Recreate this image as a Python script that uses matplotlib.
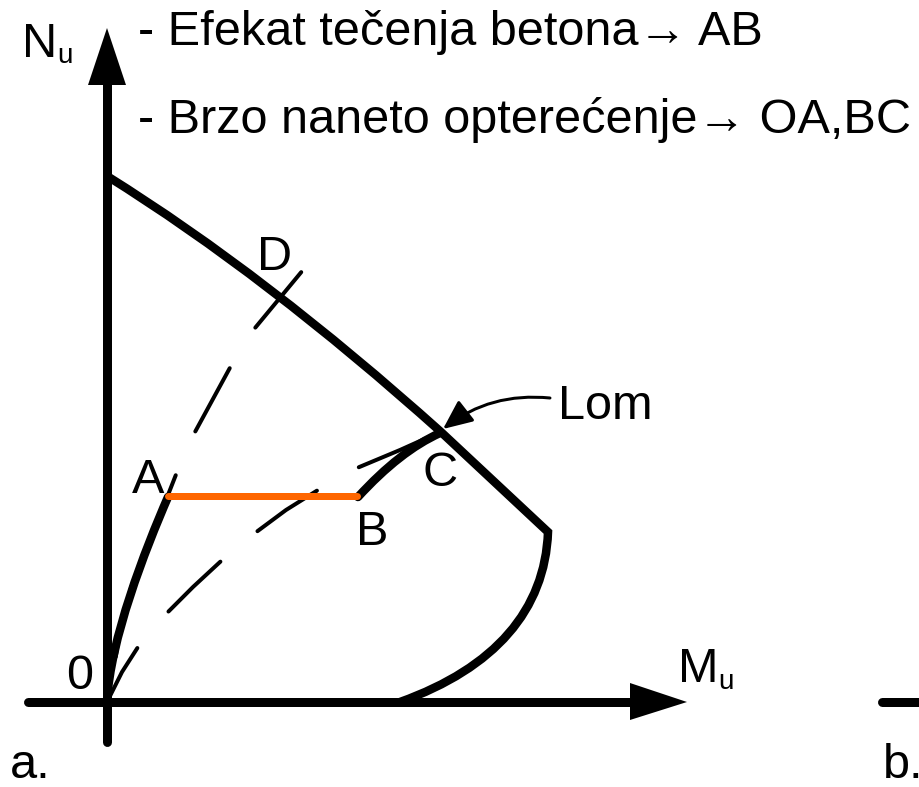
import matplotlib
matplotlib.use('Agg')
import matplotlib.pyplot as plt
from matplotlib.patches import Polygon, FancyArrowPatch, PathPatch
from matplotlib.path import Path

plt.rcParams['font.family'] = ['Liberation Sans', 'DejaVu Sans']
plt.rcParams['lines.scale_dashes'] = False

PX = 0.72  # points per pixel at 100 dpi
M, L, Q, C = Path.MOVETO, Path.LINETO, Path.CURVE3, Path.CURVE4

# diagram geometry, in image pixels (y grows downward)
n_axis_x = [107, 107]
n_axis_y = [742, 84]
n_head_x = [107, 88, 126]
n_head_y = [28, 85, 85]
m_axis_x = [28, 632]
m_axis_y = [702, 702]
m_head_x = [687, 630, 630]
m_head_y = [702, 683, 720]
b_stub_x = [882, 925]
b_stub_y = [702, 702]

# interaction (failure) curve, bezier nodes and control points
lom_x = [107, 266, 441, 548, 545, 495, 400]
lom_y = [176, 275, 432, 532, 610, 668, 702]
lom_codes = [M, Q, Q, L, C, C, C]

# loading paths
oa_x = [107, 110, 145, 168]
oa_y = [702, 640, 550, 497]
oa_codes = [M, C, C, C]
ab_x = [168, 357]
ab_y = [496, 496]
bc_x = [358, 400, 440]
bc_y = [497, 451, 433]
bc_codes = [M, Q, Q]
od_x = [107, 112, 120, 133, 150, 168, 177, 195, 232, 255, 303]
od_y = [702, 680, 630, 580, 537, 495, 472, 432, 364, 328, 270]
oc_x = [107, 122, 138, 167, 193, 220, 255, 286, 318, 357, 400, 440]
oc_y = [702, 672, 647, 613, 587, 562, 533, 510, 490, 468, 450, 432]

fig = plt.figure(figsize=(9.2, 7.87), dpi=100)
ax = fig.add_axes([0, 0, 1, 1])
ax.set_xlim(0, 920)
ax.set_ylim(787, 0)
ax.axis('off')

black = 'black'
thick = 8.5 * PX


def curve(xs, ys, codes, lw, **kw):
    p = Path(list(zip(xs, ys)), codes)
    ax.add_patch(PathPatch(p, fill=False, edgecolor=black, lw=lw, **kw))


# axes with arrow heads
ax.plot(n_axis_x, n_axis_y, color=black, lw=9 * PX, solid_capstyle='round')
ax.plot(m_axis_x, m_axis_y, color=black, lw=9 * PX, solid_capstyle='round')
ax.plot(b_stub_x, b_stub_y, color=black, lw=9 * PX, solid_capstyle='round')
ax.add_patch(Polygon(list(zip(n_head_x, n_head_y)), closed=True, color=black, lw=0))
ax.add_patch(Polygon(list(zip(m_head_x, m_head_y)), closed=True, color=black, lw=0))

# dashed paths
dash = (72 * PX, 48 * PX)
ax.plot(od_x, od_y, color=black, lw=4 * PX, dash_capstyle='round',
        linestyle=(74 * PX, dash))
ax.plot(oc_x, oc_y, color=black, lw=4 * PX, dash_capstyle='round',
        linestyle=(10 * PX, dash))

# curves
curve(lom_x, lom_y, lom_codes, thick, joinstyle='miter', capstyle='butt')
curve(oa_x, oa_y, oa_codes, thick, capstyle='round')
curve(bc_x, bc_y, bc_codes, thick, capstyle='round')
ax.plot(ab_x, ab_y, color='#FF6600', lw=7 * PX, solid_capstyle='round')

# "Lom" pointer
arrow = FancyArrowPatch((550, 398), (443, 429), connectionstyle='arc3,rad=0.2',
                        arrowstyle='-|>,head_length=0.9,head_width=0.4',
                        mutation_scale=20, lw=3 * PX, color=black,
                        shrinkA=0, shrinkB=0)
ax.add_patch(arrow)

fs = 35
small = 20
txt = dict(ha='left', va='baseline', color=black)
ax.text(22, 57, 'N', fontsize=fs, **txt)
ax.text(57, 63, 'u', fontsize=small, **txt)
ax.text(678, 682, 'M', fontsize=fs, **txt)
ax.text(718, 689, 'u', fontsize=small, **txt)
ax.text(138, 45, '- Efekat tečenja betona\u2192 AB', fontsize=fs, **txt)
ax.text(138, 133, '- Brzo naneto opterećenje\u2192 OA,BC', fontsize=fs, **txt)
ax.text(132, 493, 'A', fontsize=fs, **txt)
ax.text(356, 545, 'B', fontsize=fs, **txt)
ax.text(423, 486, 'C', fontsize=fs, **txt)
ax.text(257, 270, 'D', fontsize=fs, **txt)
ax.text(66, 689, '0', fontsize=fs, **txt)
ax.text(558, 419, 'Lom', fontsize=fs, **txt)
ax.text(10, 778, 'a.', fontsize=fs, **txt)
ax.text(883, 778, 'b.', fontsize=fs, **txt)

fig.savefig('out.png', dpi=100)
